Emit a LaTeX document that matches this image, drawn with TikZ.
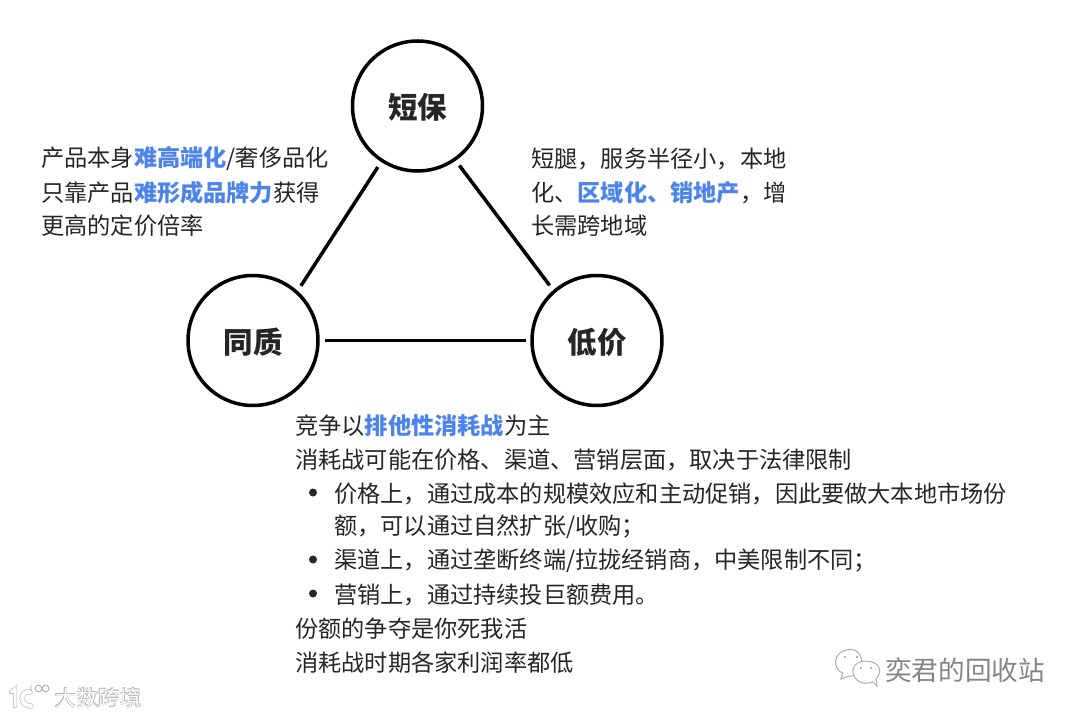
\documentclass[tikz,border=0pt]{standalone}
\usepackage{fontspec}
\setmainfont{Noto Sans CJK SC}
\definecolor{accent}{HTML}{4C84EC}
\definecolor{ink}{HTML}{262626}
\newcommand{\hl}[1]{{\bfseries\color{accent}#1}}
\newcommand{\lowered}[1]{\raisebox{-13pt}[0pt][0pt]{#1}}
\tikzset{
  vertex/.style={circle,draw=black,line width=3.5pt,minimum size=130pt,inner sep=0pt,font=\fontsize{29.5}{30}\selectfont\bfseries,text=ink},
  edge/.style={line width=3.5pt,black,shorten <=6pt,shorten >=6pt},
  body/.style={anchor=west,inner sep=0pt,font=\fontsize{23.2}{24}\selectfont,text=ink},
  dotmark/.style={circle,fill=ink,inner sep=0pt,minimum size=8pt},
  wm/.style={anchor=west,inner sep=0pt,font=\fontsize{26.6}{27}\selectfont,text=black!48},
  wmicon/.style={draw=black!32,fill=white,line width=1pt},
  wmwhite/.style={anchor=west,inner sep=0pt,font=\fontsize{21.5}{23}\selectfont,text=white},
  wmshadow/.style={anchor=west,inner sep=0pt,font=\fontsize{21.5}{23}\selectfont,text=black!28}
}
\begin{document}
\begin{tikzpicture}[x=1pt,y=-1pt]
\useasboundingbox[fill=white] (0,0) rectangle (1080,717);
\node[vertex] (top) at (417.5,106) {\lowered{短保}};
\node[vertex] (left) at (253,340.5) {\lowered{同质}};
\node[vertex] (right) at (597,340.5) {\lowered{低价}};
\draw[edge] (top.237) -- (left.48.2);
\draw[edge] (top.305.8) -- (right.131.2);
\draw[edge,shorten <=5pt,shorten >=4.5pt] (left.0) -- (right.180);

\node[body] (l1) at (41,158.7) {产品本身\hl{难高端化}/奢侈品化};
\node[body] (l2) at (41,192.7) {只靠产品\hl{难形成品牌力}获得};
\node[body] (l3) at (41,225.7) {更高的定价倍率};

\node[body] (r1) at (531,158.7) {短腿，服务半径小，本地};
\node[body] (r2) at (531,192.7) {化、\hl{区域化、销地产}，增};
\node[body] (r3) at (531,225.7) {长需跨地域};

\node[body] (b1) at (295,425.7) {竞争以\hl{排他性消耗战}为主};
\node[body] (b2) at (295,459.7) {消耗战可能在价格、渠道、营销层面，取决于法律限制};
\node[dotmark] (d1) at (313,492.5) {};
\node[body] (b3) at (334,493.7) {价格上，通过成本的规模效应和主动促销，因此要做大本地市场份};
\node[body] (b4) at (334,526.7) {额，可以通过自然扩张/收购；};
\node[dotmark] (d2) at (313,559.5) {};
\node[body] (b5) at (334,560.7) {渠道上，通过垄断终端/拉拢经销商，中美限制不同；};
\node[dotmark] (d3) at (313,593.5) {};
\node[body] (b6) at (334,594.7) {营销上，通过持续投巨额费用。};
\node[body] (b7) at (295,628.7) {份额的争夺是你死我活};
\node[body] (b8) at (295,662.7) {消耗战时期各家利润率都低};

% watermark, lower right
\draw[wmicon] (843,673) -- (841,679) -- (849,676) .. controls (866,678) and (866,650) .. (851,649.5) .. controls (832,649.5) and (832,670) .. (843,673) -- cycle;
\draw[wmicon] (873,682) -- (877,686) -- (876,679) .. controls (884,670) and (878,661) .. (866,661) .. controls (853,661) and (849,672) .. (857,680) .. controls (861,684) and (868,684) .. (873,682) -- cycle;
\fill[black!40] (845,657) circle (1.1pt) (857,657) circle (1.1pt) (861,668) circle (1.1pt) (871,668) circle (1.1pt);
\node[wm] (wmname) at (885,670.5) {奕君的回收站};

% watermark, lower left
\draw[black!28,line width=4.4pt,line cap=round] (11,692) -- (15,689) -- (15,706);
\draw[white,line width=3pt,line cap=round] (11,692) -- (15,689) -- (15,706);
\draw[black!28,line width=5.4pt,line cap=round] (30,692) .. controls (20,690) and (19,706) .. (31,706);
\draw[white,line width=4pt,line cap=round] (30,692) .. controls (20,690) and (19,706) .. (31,706);
\draw[black!35,line width=.8pt] (31,685) -- (31,691) (38.5,688.5) circle (3.4pt) (45.5,688.5) circle (3.4pt);
\foreach \dx/\dy/\id in {-.6/-.6/a,.7/.7/b,.7/-.6/c,-.6/.7/d}
  \node[wmshadow] (wmshade\id) at (55+\dx,698+\dy) {大数跨境};
\node[wmwhite] (wmbrand) at (55,698) {大数跨境};
\end{tikzpicture}
\end{document}
